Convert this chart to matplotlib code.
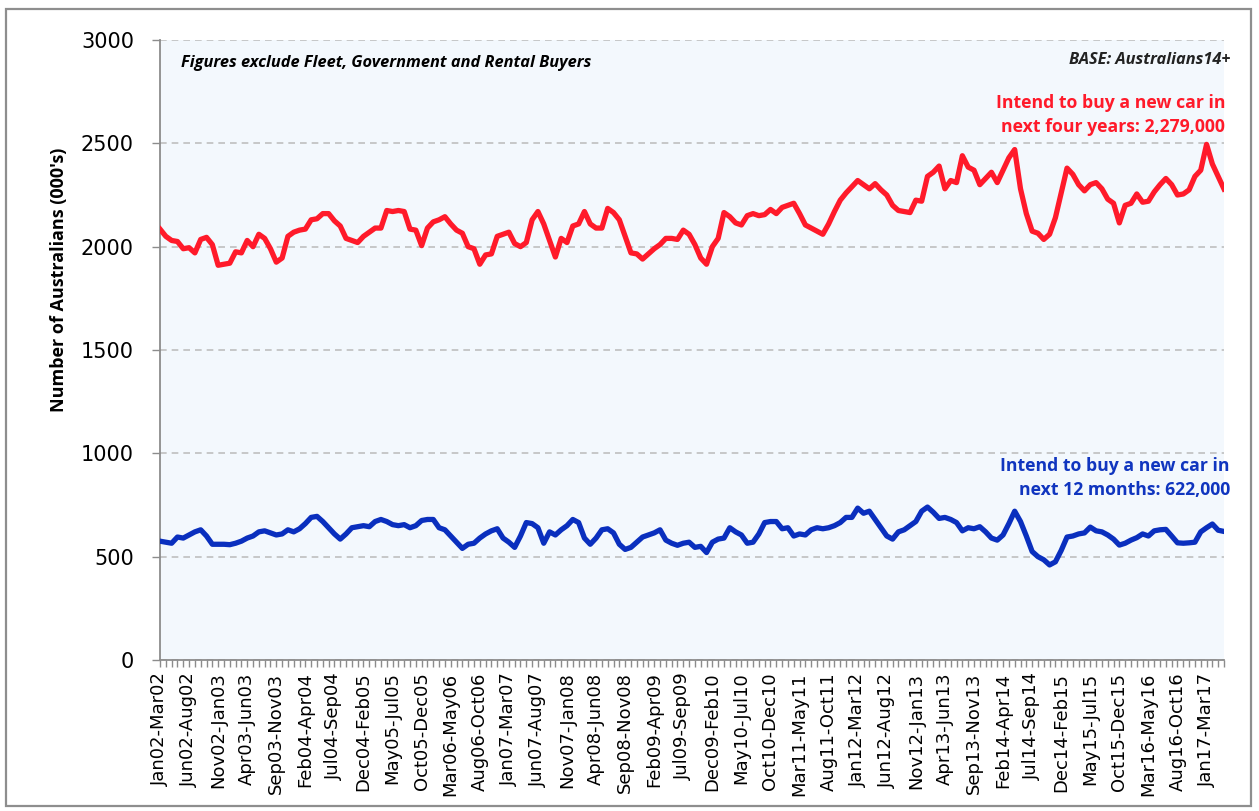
import matplotlib
matplotlib.use("Agg")
import matplotlib.pyplot as plt
from matplotlib.patches import Rectangle
import numpy as np

tick_labels = ["Jan02-Mar02", "Jun02-Aug02", "Nov02-Jan03", "Apr03-Jun03", "Sep03-Nov03",
               "Feb04-Apr04", "Jul04-Sep04", "Dec04-Feb05", "May05-Jul05", "Oct05-Dec05",
               "Mar06-May06", "Aug06-Oct06", "Jan07-Mar07", "Jun07-Aug07", "Nov07-Jan08",
               "Apr08-Jun08", "Sep08-Nov08", "Feb09-Apr09", "Jul09-Sep09", "Dec09-Feb10",
               "May10-Jul10", "Oct10-Dec10", "Mar11-May11", "Aug11-Oct11", "Jan12-Mar12",
               "Jun12-Aug12", "Nov12-Jan13", "Apr13-Jun13", "Sep13-Nov13", "Feb14-Apr14",
               "Jul14-Sep14", "Dec14-Feb15", "May15-Jul15", "Oct15-Dec15", "Mar16-May16",
               "Aug16-Oct16", "Jan17-Mar17"]

four_years = [
    2085, 2050, 2030, 2025, 1990, 1995, 1970, 2035, 2045, 2010,
    1910, 1915, 1920, 1975, 1970, 2030, 2000, 2060, 2040, 1990,
    1925, 1945, 2050, 2070, 2080, 2085, 2130, 2135, 2160, 2160,
    2125, 2100, 2040, 2030, 2020, 2050, 2070, 2090, 2090, 2175,
    2170, 2175, 2170, 2085, 2080, 2005, 2090, 2120, 2130, 2145,
    2110, 2080, 2065, 2000, 1990, 1915, 1960, 1965, 2050, 2060,
    2070, 2015, 2000, 2020, 2130, 2170, 2110, 2030, 1950, 2040,
    2020, 2100, 2110, 2170, 2110, 2090, 2090, 2185, 2165, 2130,
    2050, 1970, 1965, 1940, 1965, 1990, 2010, 2040, 2040, 2035,
    2080, 2060, 2010, 1945, 1915, 2000, 2040, 2165, 2145, 2115,
    2105, 2150, 2160, 2150, 2155, 2180, 2160, 2190, 2200, 2210,
    2160, 2105, 2090, 2075, 2060, 2110, 2170, 2225, 2260, 2290,
    2320, 2300, 2280, 2305, 2275, 2250, 2200, 2175, 2170, 2165,
    2225, 2220, 2340, 2360, 2390, 2280, 2320, 2310, 2440, 2385,
    2370, 2300, 2330, 2360, 2310, 2370, 2430, 2470, 2280, 2160,
    2075, 2065, 2035, 2060, 2140, 2260, 2380, 2350, 2300, 2270,
    2300, 2310, 2280, 2230, 2210, 2115, 2200, 2210, 2255, 2215,
    2220, 2265, 2300, 2330, 2300, 2250, 2255, 2275, 2340, 2370,
    2495, 2400, 2340, 2279]

twelve_months = [
    575, 570, 565, 595, 590, 605, 620, 630, 600, 560,
    560, 560, 558, 565, 575, 590, 600, 620, 625, 615,
    605, 610, 630, 620, 635, 660, 690, 695, 670, 640,
    610, 585, 610, 640, 645, 650, 645, 670, 680, 670,
    655, 650, 655, 640, 650, 675, 680, 680, 640, 630,
    600, 570, 540, 560, 565, 590, 610, 625, 635, 590,
    570, 545, 600, 665, 660, 640, 565, 620, 605, 630,
    650, 680, 665, 590, 560, 590, 630, 635, 615, 560,
    535, 545, 570, 595, 605, 615, 630, 580, 565, 555,
    565, 570, 545, 550, 520, 570, 585, 590, 640, 620,
    605, 565, 570, 610, 665, 670, 670, 635, 640, 600,
    610, 605, 630, 640, 635, 640, 650, 665, 690, 690,
    735, 710, 720, 680, 640, 600, 585, 620, 630, 650,
    670, 720, 740, 715, 685, 690, 680, 665, 625, 640,
    635, 645, 620, 590, 580, 605, 660, 720, 670, 600,
    525, 500, 485, 460, 475, 530, 595, 600, 610, 615,
    643, 625, 620, 605, 585, 556, 565, 580, 592, 610,
    600, 625, 630, 632, 600, 567, 565, 567, 570, 620,
    640, 658, 628, 622]

red_label = "Intend to buy a new car in\nnext four years: 2,279,000"
blue_label = "Intend to buy a new car in\nnext 12 months: 622,000"
note_left = "Figures exclude Fleet, Government and Rental Buyers"
note_right = "BASE: Australians14+"
y_label = "Number of Australians (000's)"

RED = "#FF1A2A"
BLUE = "#0A2FBE"

W, H = 1259, 811
fig = plt.figure(figsize=(W / 100, H / 100), dpi=100)
fig.patch.set_facecolor("white")
fig.patches.append(Rectangle((6 / W, 1 - 806 / H), (1251 - 6) / W, (806 - 9) / H,
                             transform=fig.transFigure, fill=False,
                             edgecolor="#8E8E8E", lw=1.6))

ax = fig.add_axes([160 / W, 1 - 660 / H, (1224 - 160) / W, (660 - 40) / H])
ax.set_facecolor("#F3F8FD")

x = np.arange(len(four_years))
ax.plot(x, four_years, color=RED, lw=3.8, solid_joinstyle="round", zorder=3)
ax.plot(x, twelve_months, color=BLUE, lw=3.8, solid_joinstyle="round", zorder=3)

ax.set_xlim(0, len(four_years) - 1)
ax.set_ylim(0, 3000)
ax.set_yticks(np.arange(0, 3001, 500))
ax.yaxis.grid(True, color="#BFBFBF", ls=(0, (4, 3)), lw=1.2)
ax.set_axisbelow(True)
for s in ["top", "right"]:
    ax.spines[s].set_visible(False)
ax.spines["left"].set_color("#8C8C8C")
ax.spines["bottom"].set_color("#8C8C8C")
ax.spines["left"].set_linewidth(1.3)
ax.spines["bottom"].set_linewidth(1.3)

ax.set_xticks(np.arange(0, len(four_years), 5))
ax.set_xticklabels(tick_labels, rotation=90, fontsize=13, family="DejaVu Sans")
ax.set_xticks(x, minor=True)
ax.tick_params(axis="x", which="both", length=5, color="#8C8C8C", width=1, pad=4)
ax.tick_params(axis="y", length=5.8, color="#8C8C8C", width=1, labelsize=15, pad=13)

fig.text(59 / W, 1 - 280 / H, y_label, rotation=90, fontsize=13, fontweight="bold",
         family="Open Sans", va="center", ha="center")

fig.text(181 / W, 1 - 63 / H, note_left, fontsize=11.8,
         fontweight="bold", style="italic", family="Open Sans", va="center", ha="left")
fig.text(1230 / W, 1 - 60 / H, note_right, fontsize=11.8,
         fontweight="bold", style="italic", family="Open Sans", va="center", ha="right",
         color="#222222")
fig.text(1225 / W, 1 - 115 / H, red_label, fontsize=12.7,
         fontweight="bold", family="Open Sans", va="center", ha="right", color=RED,
         linespacing=1.4)
fig.text(1230 / W, 1 - 478 / H, blue_label, fontsize=12.7,
         fontweight="bold", family="Open Sans", va="center", ha="right", color="#1035BF",
         linespacing=1.4)

fig.savefig("out.png", dpi=100)
